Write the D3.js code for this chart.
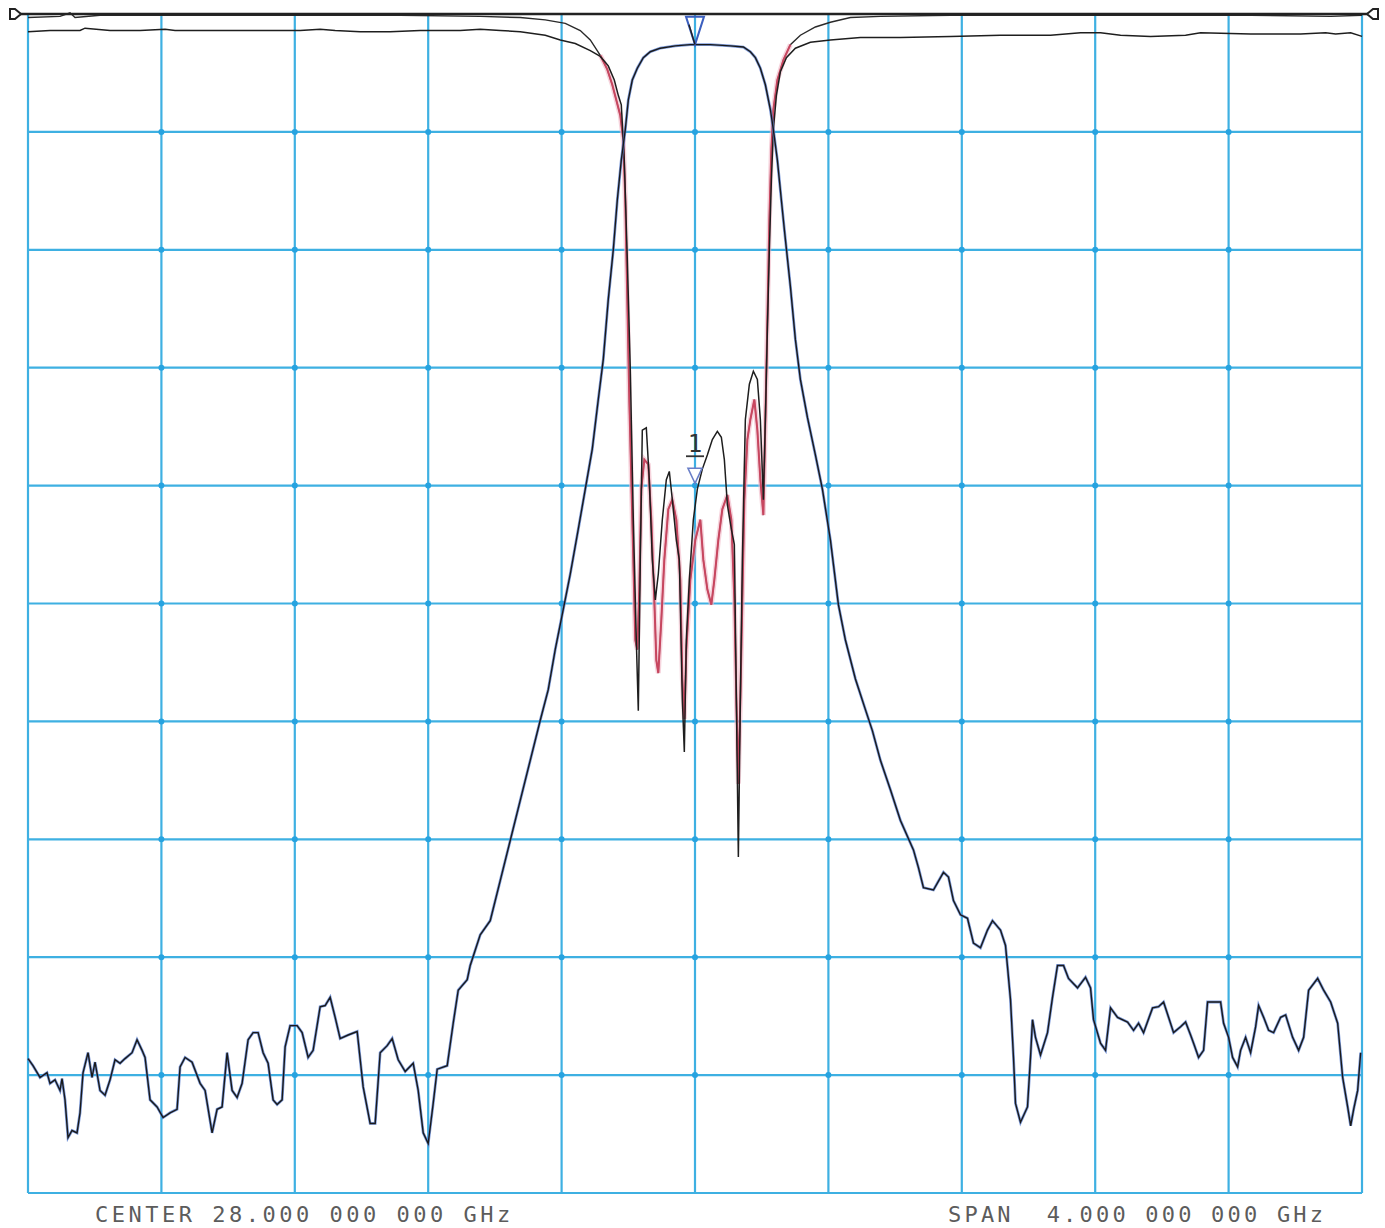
<!DOCTYPE html>
<html>
<head>
<meta charset="utf-8">
<script src="https://cdn.jsdelivr.net/npm/d3@7"></script>
<style>
  html, body { margin: 0; padding: 0; background: #fff; overflow: hidden; }
  svg { display: block; }
</style>
</head>
<body>
<script>
// sweep setup
const centerGHz = 28.0;
const spanGHz = 4.0;
const refLevel = 0;     // dB at top graticule line
const scaleDb = 10;     // dB per division
const divisions = 10;

const centerLabel = "CENTER 28.000 000 000 GHz";
const spanLabel = "SPAN  4.000 000 000 GHz";

// transmission trace [GHz, dB]
const s21 = [
  [26.000,-88.6],[26.015,-89.2],[26.036,-90.2],[26.057,-89.8],[26.066,-90.7],[26.081,-90.4],
  [26.096,-91.3],[26.102,-90.3],[26.111,-92.1],[26.120,-95.3],[26.132,-94.7],[26.147,-94.9],
  [26.156,-93.2],[26.165,-89.8],[26.180,-88.1],[26.192,-90.2],[26.201,-88.9],[26.216,-91.3],
  [26.231,-91.7],[26.246,-90.4],[26.261,-88.7],[26.276,-89.0],[26.291,-88.6],[26.312,-88.1],
  [26.327,-87.0],[26.342,-87.9],[26.351,-88.5],[26.366,-92.1],[26.387,-92.7],[26.405,-93.6],
  [26.426,-93.2],[26.447,-92.9],[26.456,-89.3],[26.471,-88.5],[26.492,-88.9],[26.516,-90.7],
  [26.531,-91.3],[26.552,-94.9],[26.567,-92.9],[26.582,-92.7],[26.597,-88.1],[26.612,-91.3],
  [26.627,-91.9],[26.642,-90.7],[26.660,-87.0],[26.675,-86.4],[26.690,-86.4],[26.705,-88.1],
  [26.720,-89.0],[26.735,-92.1],[26.747,-92.5],[26.762,-92.1],[26.771,-87.6],[26.786,-85.8],
  [26.807,-85.8],[26.822,-86.4],[26.840,-88.5],[26.855,-87.9],[26.876,-84.2],[26.891,-84.1],
  [26.906,-83.4],[26.921,-85.1],[26.936,-86.9],[26.960,-86.6],[26.987,-86.3],[27.005,-91.0],
  [27.026,-94.1],[27.041,-94.1],[27.056,-88.1],[27.077,-87.5],[27.092,-86.9],[27.110,-88.7],
  [27.131,-89.7],[27.155,-89.0],[27.170,-91.3],[27.185,-94.9],[27.200,-95.8],[27.215,-92.4],
  [27.227,-89.5],[27.257,-89.2],[27.275,-85.6],[27.290,-82.8],[27.317,-81.9],[27.326,-80.7],
  [27.356,-78.1],[27.386,-76.9],[27.416,-73.5],[27.446,-70.1],[27.476,-66.7],[27.506,-63.3],
  [27.536,-59.9],[27.560,-57.3],[27.581,-53.9],[27.605,-50.5],[27.626,-47.5],[27.650,-43.7],
  [27.671,-40.3],[27.692,-36.9],[27.710,-32.7],[27.725,-29.3],[27.740,-24.2],[27.755,-20.0],
  [27.767,-15.8],[27.779,-12.4],[27.791,-9.8],[27.800,-7.3],[27.812,-5.6],[27.827,-4.6],
  [27.845,-3.7],[27.866,-3.2],[27.896,-2.9],[27.941,-2.7],[27.986,-2.6],[28.046,-2.6],
  [28.106,-2.7],[28.145,-2.8],[28.166,-3.2],[28.181,-3.7],[28.196,-4.6],[28.211,-6.0],
  [28.226,-8.1],[28.235,-9.8],[28.247,-12.4],[28.259,-15.8],[28.268,-18.3],[28.286,-23.1],
  [28.301,-27.6],[28.316,-31.0],[28.337,-34.2],[28.361,-37.4],[28.382,-40.3],[28.406,-44.6],
  [28.430,-50.1],[28.451,-53.1],[28.481,-56.4],[28.511,-59.0],[28.532,-60.8],[28.556,-63.3],
  [28.586,-65.8],[28.616,-68.4],[28.655,-70.9],[28.670,-72.4],[28.685,-74.1],[28.715,-74.3],
  [28.745,-72.8],[28.760,-73.2],[28.775,-75.2],[28.796,-76.4],[28.817,-76.7],[28.835,-78.8],
  [28.856,-79.2],[28.877,-77.7],[28.892,-76.9],[28.916,-77.7],[28.931,-79.0],[28.937,-80.8],
  [28.946,-83.6],[28.955,-88.5],[28.961,-92.4],[28.976,-94.0],[28.997,-92.7],[29.006,-88.5],
  [29.012,-85.3],[29.021,-86.8],[29.036,-88.3],[29.057,-86.4],[29.072,-83.4],[29.087,-80.7],
  [29.105,-80.7],[29.120,-81.8],[29.147,-82.6],[29.171,-81.7],[29.186,-82.6],[29.195,-85.3],
  [29.216,-87.3],[29.231,-87.9],[29.246,-84.3],[29.267,-85.1],[29.297,-85.5],[29.315,-86.2],
  [29.330,-85.6],[29.345,-86.4],[29.372,-84.3],[29.390,-84.2],[29.405,-83.8],[29.420,-85.1],
  [29.435,-86.4],[29.456,-85.9],[29.471,-85.5],[29.486,-86.6],[29.495,-87.3],[29.510,-88.5],
  [29.525,-87.9],[29.537,-83.8],[29.576,-83.8],[29.585,-85.6],[29.600,-86.8],[29.612,-88.5],
  [29.627,-89.3],[29.636,-87.9],[29.651,-86.8],[29.666,-88.1],[29.681,-85.9],[29.690,-84.1],
  [29.705,-85.1],[29.720,-86.2],[29.735,-86.4],[29.756,-85.1],[29.771,-84.9],[29.792,-86.8],
  [29.810,-87.9],[29.825,-86.8],[29.840,-82.8],[29.867,-81.8],[29.885,-82.8],[29.906,-83.8],
  [29.927,-85.6],[29.942,-90.2],[29.957,-92.7],[29.966,-94.3],[29.975,-92.9],[29.987,-91.3],
  [29.996,-88.1]
];

// return loss, port 1 [GHz, dB]
const s11 = [
  [26.000,-1.5],[26.066,-1.4],[26.156,-1.4],[26.171,-1.2],[26.246,-1.4],[26.336,-1.4],
  [26.411,-1.3],[26.441,-1.4],[26.516,-1.4],[26.636,-1.4],[26.726,-1.4],[26.816,-1.4],
  [26.876,-1.3],[26.921,-1.4],[26.996,-1.5],[27.086,-1.5],[27.176,-1.4],[27.296,-1.4],
  [27.356,-1.3],[27.416,-1.4],[27.476,-1.5],[27.551,-1.8],[27.596,-2.2],[27.641,-2.5],
  [27.686,-3.1],[27.716,-3.6],[27.740,-4.4],[27.758,-5.6],[27.770,-6.9],[27.779,-7.7],
  [27.788,-12.4],[27.797,-20.8],[27.806,-30.2],[27.815,-42.9],[27.824,-53.1],[27.830,-59.1],
  [27.836,-46.3],[27.842,-35.3],[27.854,-35.1],[27.863,-39.5],[27.872,-46.3],[27.881,-49.7],
  [27.890,-47.5],[27.902,-42.9],[27.914,-39.5],[27.923,-38.8],[27.932,-41.2],[27.944,-44.6],
  [27.953,-46.3],[27.962,-58.1],[27.968,-62.6],[27.974,-53.1],[27.983,-48.0],[27.995,-42.9],
  [28.007,-40.3],[28.022,-38.6],[28.037,-37.4],[28.052,-36.1],[28.067,-35.4],[28.079,-35.9],
  [28.088,-37.8],[28.097,-41.6],[28.109,-43.7],[28.118,-45.0],[28.124,-58.1],[28.130,-71.5],
  [28.136,-58.1],[28.142,-46.3],[28.151,-34.4],[28.163,-31.4],[28.175,-30.3],[28.187,-31.0],
  [28.196,-34.4],[28.205,-41.2],[28.211,-34.4],[28.217,-26.8],[28.223,-20.0],[28.229,-14.1],
  [28.235,-9.8],[28.244,-6.9],[28.256,-4.9],[28.274,-3.7],[28.301,-2.9],[28.346,-2.4],
  [28.406,-2.2],[28.496,-2.0],[28.616,-2.0],[28.766,-1.9],[28.916,-1.8],[29.066,-1.8],
  [29.156,-1.6],[29.216,-1.6],[29.276,-1.8],[29.366,-1.9],[29.471,-1.8],[29.516,-1.6],
  [29.666,-1.7],[29.816,-1.7],[29.891,-1.6],[29.921,-1.7],[29.966,-1.6],[30.000,-1.9]
];

// return loss, port 2 [GHz, dB]
const s22 = [
  [26.000,-0.3],[26.096,-0.2],[26.126,0.1],[26.141,-0.3],[26.216,-0.1],[26.366,-0.1],
  [26.516,-0.1],[26.816,-0.1],[27.116,-0.1],[27.356,-0.2],[27.476,-0.3],[27.551,-0.5],
  [27.611,-0.8],[27.656,-1.4],[27.686,-2.2],[27.716,-3.5],[27.737,-4.7],[27.752,-6.0],
  [27.764,-7.3],[27.776,-8.6],[27.785,-10.7],[27.791,-15.8],[27.797,-24.2],[27.803,-32.7],
  [27.809,-39.5],[27.815,-46.3],[27.821,-53.1],[27.827,-53.9],[27.833,-48.8],[27.839,-40.3],
  [27.848,-37.8],[27.860,-38.2],[27.869,-42.9],[27.878,-49.7],[27.884,-54.8],[27.890,-55.9],
  [27.899,-51.4],[27.908,-46.3],[27.920,-42.0],[27.932,-41.2],[27.944,-42.9],[27.956,-48.0],
  [27.962,-56.4],[27.968,-59.8],[27.974,-53.9],[27.986,-48.0],[28.001,-44.6],[28.016,-42.9],
  [28.025,-46.3],[28.037,-48.8],[28.049,-50.1],[28.058,-48.0],[28.070,-44.6],[28.082,-42.0],
  [28.097,-40.8],[28.109,-42.9],[28.118,-49.7],[28.124,-58.1],[28.130,-65.3],[28.136,-58.1],
  [28.142,-49.7],[28.148,-41.2],[28.157,-36.1],[28.166,-34.4],[28.178,-32.7],[28.187,-35.3],
  [28.196,-39.5],[28.205,-42.5],[28.211,-34.4],[28.217,-26.0],[28.223,-17.5],[28.229,-11.5],
  [28.235,-8.1],[28.247,-5.6],[28.265,-3.9],[28.286,-2.6],[28.316,-1.8],[28.361,-1.1],
  [28.406,-0.7],[28.466,-0.3],[28.556,-0.2],[28.766,-0.1],[29.066,-0.1],[29.366,-0.1],
  [29.666,-0.1],[29.906,-0.2],[30.000,-0.1]
];

// marker 1 at the centre frequency
const marker1 = { f: 28.0, s11: -39.8, s21: -2.6, label: "1" };

const width = 1385, height = 1228;

const svg = d3.select("body").append("svg")
  .attr("width", width)
  .attr("height", height)
  .style("background", "#fff");

const x = d3.scaleLinear()
  .domain([centerGHz - spanGHz / 2, centerGHz + spanGHz / 2])
  .range([28, 1362]);
const y = d3.scaleLinear()
  .domain([refLevel, refLevel - scaleDb * divisions])
  .range([14, 1193]);

const fTicks = d3.range(divisions + 1).map(i => x.domain()[0] + i * spanGHz / divisions);
const dbTicks = d3.range(divisions + 1).map(i => refLevel - i * scaleDb);

// graticule
const grid = svg.append("g");
grid.selectAll("line.v").data(fTicks).join("line")
  .attr("x1", d => x(d)).attr("x2", d => x(d))
  .attr("y1", y(refLevel)).attr("y2", y(dbTicks[divisions]))
  .attr("stroke", "#3eb0e2").attr("stroke-width", 2.2);
grid.selectAll("line.h").data(dbTicks).join("line")
  .attr("x1", x.range()[0]).attr("x2", x.range()[1])
  .attr("y1", d => y(d)).attr("y2", d => y(d))
  .attr("stroke", "#3eb0e2").attr("stroke-width", 2.2);
grid.selectAll("circle").data(d3.cross(fTicks.slice(1, -1), dbTicks.slice(1, -1))).join("circle")
  .attr("cx", d => x(d[0])).attr("cy", d => y(d[1]))
  .attr("r", 3).attr("fill", "#27a3e0");

const line = d3.line().x(d => x(d[0])).y(d => y(d[1]));

// port 2 return loss: black trace, red where it leaves the top
const s22Dip = s22.filter(d => d[1] < -2.5);
svg.append("path").datum(s22).attr("d", line)
  .attr("fill", "none").attr("stroke", "#2a2a2a").attr("stroke-width", 1.4);
svg.append("path").datum(s22Dip).attr("d", line)
  .attr("fill", "none").attr("stroke", "#f0b8c6").attr("stroke-width", 5).attr("stroke-opacity", 0.6);
svg.append("path").datum(s22Dip).attr("d", line)
  .attr("fill", "none").attr("stroke", "#c8465f").attr("stroke-width", 2);

// port 1 return loss (black)
svg.append("path").datum(s11).attr("d", line)
  .attr("fill", "none").attr("stroke", "#1e1e1e").attr("stroke-width", 1.5);

// transmission (blue under black)
svg.append("path").datum(s21).attr("d", line)
  .attr("fill", "none").attr("stroke", "#5a7fd0").attr("stroke-width", 2.8).attr("stroke-opacity", 0.8);
svg.append("path").datum(s21).attr("d", line)
  .attr("fill", "none").attr("stroke", "#1a1a1a").attr("stroke-width", 1.4);

// reference line with end indicators
const refY = y(refLevel);
svg.append("line")
  .attr("x1", x.range()[0] - 10).attr("x2", x.range()[1] + 6)
  .attr("y1", refY).attr("y2", refY)
  .attr("stroke", "#222").attr("stroke-width", 2.6);
svg.append("path")
  .attr("d", `M${x.range()[0] - 18},${refY - 5} h5 l6,5 l-6,5 h-5 z`)
  .attr("fill", "#fff").attr("stroke", "#222").attr("stroke-width", 2);
svg.append("path")
  .attr("d", `M${x.range()[1] + 16},${refY - 5} h-5 l-6,5 l6,5 h5 z`)
  .attr("fill", "#fff").attr("stroke", "#222").attr("stroke-width", 2);

// marker on transmission trace
const mx = x(marker1.f);
svg.append("path")
  .attr("d", `M${mx},${y(marker1.s21)} l-9,-28 h18 z`)
  .attr("fill", "none").attr("stroke", "#3b5fbf").attr("stroke-width", 2);
svg.append("path")
  .attr("d", `M${mx},${y(marker1.s21)} l-6,-20`)
  .attr("stroke", "#222").attr("stroke-width", 1.5);

// marker 1 on return loss trace
const my = y(marker1.s11);
svg.append("path")
  .attr("d", `M${mx},${my} l-7,-15 h14 z`)
  .attr("fill", "#fff").attr("stroke", "#6a7fc8").attr("stroke-width", 1.6);
svg.append("line")
  .attr("x1", mx - 9).attr("x2", mx + 9)
  .attr("y1", my - 27).attr("y2", my - 27)
  .attr("stroke", "#333").attr("stroke-width", 1.8);
svg.append("text")
  .attr("x", mx).attr("y", my - 31)
  .attr("text-anchor", "middle")
  .style("font-family", "DejaVu Sans Mono")
  .style("font-size", "24px")
  .attr("fill", "#333")
  .text(marker1.label);

// annotation texts
svg.append("text")
  .attr("x", 95).attr("y", 1222)
  .style("font-family", "DejaVu Sans Mono")
  .style("font-size", "22px")
  .style("letter-spacing", "3.5px")
  .style("white-space", "pre")
  .attr("fill", "#5c5c5c")
  .text(centerLabel);
svg.append("text")
  .attr("x", 948).attr("y", 1222)
  .style("font-family", "DejaVu Sans Mono")
  .style("font-size", "22px")
  .style("letter-spacing", "3.2px")
  .style("white-space", "pre")
  .attr("fill", "#5c5c5c")
  .text(spanLabel);
</script>
</body>
</html>
